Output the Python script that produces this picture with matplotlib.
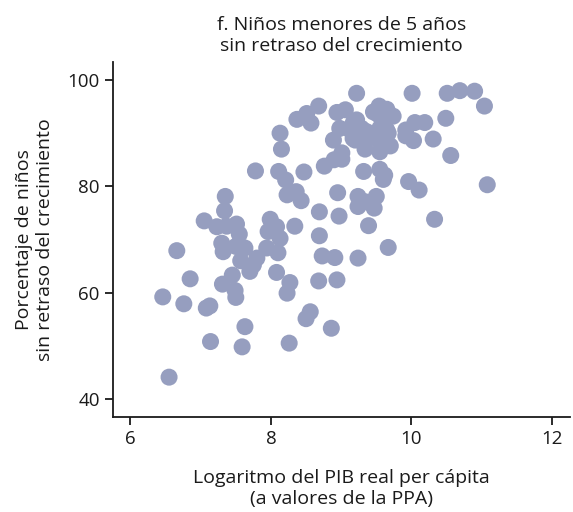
import matplotlib
matplotlib.use('Agg')
import matplotlib.pyplot as plt

# log GDP per capita (PPP) vs share of under-5 children without stunting
log_gdp = [9.22, 8.68, 8.51, 8.37, 8.57, 8.94, 9.06, 8.13, 8.98, 8.89,
           8.15, 9.01, 9.01, 8.90, 8.76, 7.78, 8.11, 8.21, 8.47, 7.35,
           8.23, 8.36, 8.43, 8.95, 7.34, 8.69, 8.97, 7.05, 7.23, 7.37,
           7.51, 7.55, 7.99, 7.96, 8.08, 8.13, 8.34, 8.69, 6.66, 7.30,
           7.32, 7.50, 7.63, 7.57, 7.80, 7.70, 7.75, 7.94, 8.10, 8.08,
           8.27, 8.23, 8.73, 8.91, 9.24, 8.68, 8.94, 6.85, 7.45, 7.31,
           7.49, 7.50, 6.46, 6.76, 7.08, 7.13, 7.63, 7.14, 7.59, 8.26,
           8.56, 8.50, 8.86, 6.55, 9.39, 10.33, 9.67, 10.01, 10.51, 10.69,
           10.90, 11.04, 9.54, 9.65, 9.74, 9.51, 9.22, 9.13, 9.29, 9.20,
           9.34, 9.34, 9.44, 9.55, 9.65, 9.53, 9.55, 9.70, 9.62, 9.92,
           9.92, 10.05, 10.19, 10.03, 10.31, 10.49, 10.56, 9.32, 9.55, 9.62,
           9.60, 9.96, 10.11, 11.08, 9.24, 9.50, 9.24, 9.47, 9.34, 9.41,
           9.67, 9.46, 9.17, 9.17, 9.57, 9.36]
no_stunting = [97.5, 95.1, 93.7, 92.6, 91.9, 93.9, 94.4, 90.0, 90.9, 88.7,
               87.0, 86.3, 85.1, 85.0, 83.8, 82.9, 82.8, 81.2, 82.7, 78.1,
               78.4, 79.0, 77.3, 78.8, 75.4, 75.2, 74.4, 73.5, 72.4, 72.5,
               72.9, 71.0, 73.8, 71.5, 72.4, 70.2, 72.5, 70.7, 67.9, 69.3,
               67.7, 68.7, 68.4, 66.0, 66.5, 64.0, 65.2, 68.4, 67.5, 63.8,
               61.9, 59.9, 66.9, 66.6, 66.5, 62.2, 62.4, 62.6, 63.3, 61.6,
               60.4, 59.1, 59.2, 57.9, 57.1, 57.5, 53.6, 50.8, 49.8, 50.5,
               56.4, 55.1, 53.3, 44.1, 72.6, 73.8, 68.5, 97.5, 97.5, 98.0,
               97.9, 95.1, 95.1, 94.5, 93.2, 93.7, 92.5, 90.6, 90.9, 88.7,
               89.0, 87.0, 89.7, 90.9, 90.6, 88.7, 86.5, 87.6, 92.2, 90.6,
               89.5, 92.0, 92.0, 88.6, 88.9, 92.8, 85.8, 82.8, 83.2, 82.1,
               81.3, 80.9, 79.3, 80.3, 78.1, 78.1, 76.2, 75.9, 77.1, 89.7,
               90.0, 94.0, 89.0, 91.9, 92.8, 90.3]

plt.rcParams['font.family'] = ['Open Sans', 'DejaVu Sans']

fig = plt.figure(figsize=(5.73, 5.12), dpi=100)
ax = fig.add_axes([0.197, 0.1855, 0.798, 0.6935])

ax.scatter(log_gdp, no_stunting, s=150, color='#969ebf', edgecolors='none', zorder=3)

ax.set_xlim(5.75, 12.26)
ax.set_ylim(36.6, 103.4)
ax.set_xticks([6, 8, 10, 12])
ax.set_yticks([40, 60, 80, 100])
ax.tick_params(labelsize=13.5, length=6, width=1.3, colors='#1a1a1a')
for side in ['top', 'right']:
    ax.spines[side].set_visible(False)
for side in ['left', 'bottom']:
    ax.spines[side].set_linewidth(1.3)
    ax.spines[side].set_color('#1a1a1a')

ax.set_title('f. Niños menores de 5 años\nsin retraso del crecimiento',
             fontsize=14, color='#1a1a1a', pad=8, linespacing=1.18)
ax.set_xlabel('Logaritmo del PIB real per cápita\n(a valores de la PPA)',
              fontsize=14, color='#1a1a1a', labelpad=15, linespacing=1.18)
ax.set_ylabel('Porcentaje de niños\nsin retraso del crecimiento',
              fontsize=14, color='#1a1a1a', labelpad=10, linespacing=1.18)

fig.savefig('out.png', dpi=100)
